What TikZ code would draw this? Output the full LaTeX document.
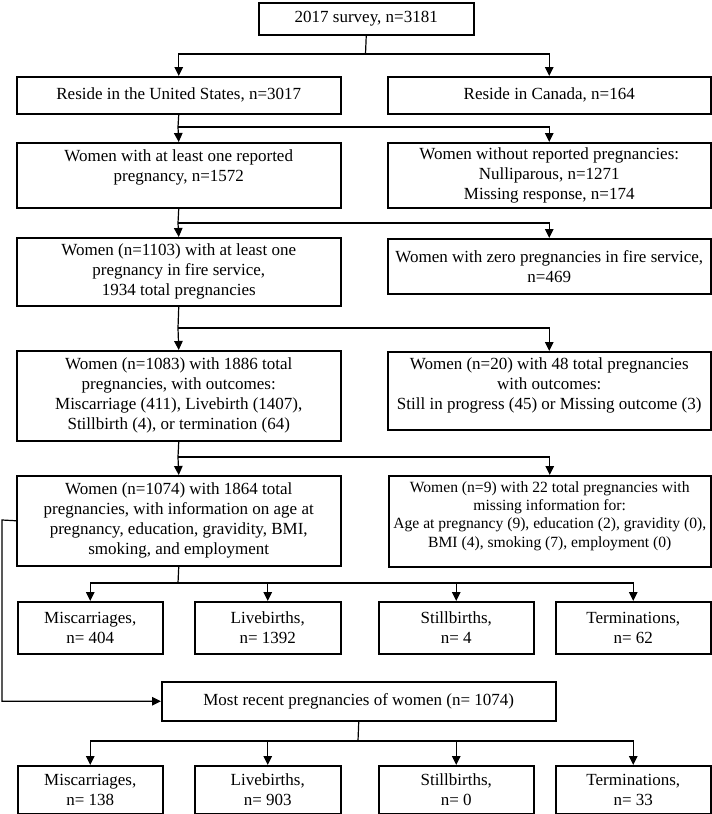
\documentclass[tikz,border=0pt]{standalone}
\usepackage{fontspec}
\setmainfont{Liberation Serif}
\usetikzlibrary{arrows.meta}
\tikzset{
  box/.style={draw, line width=1.5pt, align=center, inner sep=1pt, anchor=north west,
    font=\fontsize{17}{20}\selectfont},
  smallbox/.style={box, font=\fontsize{15.6}{18.3}\selectfont},
  conn/.style={line width=1.2pt},
  arr/.style={line width=1.2pt, -{Triangle[length=9pt,width=8.5pt]}},
}
\begin{document}
\begin{tikzpicture}[x=1pt,y=-1pt]
\useasboundingbox (0,0) rectangle (712,814);
% boxes
\node[box, minimum width=215pt, minimum height=32pt] (b1) at (258,2) {2017 survey, n=3181};
\node[box, minimum width=324pt, minimum height=37pt] (us) at (16,76) {Reside in the United States, n=3017};
\node[box, minimum width=323pt, minimum height=37pt] (ca) at (387,76) {Reside in Canada, n=164};
\node[box, minimum width=324pt, minimum height=65pt, text depth=20pt] (w1) at (16,142) {Women with at least one reported\\pregnancy, n=1572};
\node[box, minimum width=323pt, minimum height=65pt] (w1r) at (387,142) {Women without reported pregnancies:\\Nulliparous, n=1271\\Missing response, n=174};
\node[box, minimum width=324pt, minimum height=68pt] (w2) at (16,237) {Women (n=1103) with at least one\\pregnancy in fire service,\\1934 total pregnancies};
\node[box, minimum width=323pt, minimum height=55pt] (w2r) at (387,238) {Women with zero pregnancies in fire service,\\n=469};
\node[box, minimum width=324pt, minimum height=90pt] (w3) at (16,350) {Women (n=1083) with 1886 total\\pregnancies, with outcomes:\\Miscarriage (411), Livebirth (1407),\\Stillbirth (4), or termination (64)};
\node[box, minimum width=323pt, minimum height=78pt, text depth=14pt] (w3r) at (387,351) {Women (n=20) with 48 total pregnancies\\with outcomes:\\Still in progress (45) or Missing outcome (3)};
\node[box, minimum width=324pt, minimum height=90pt] (w4) at (16,475) {Women (n=1074) with 1864 total\\pregnancies, with information on age at\\pregnancy, education, gravidity, BMI,\\smoking, and employment};
\node[smallbox, minimum width=322pt, minimum height=91pt, text depth=14pt] (w4r) at (388,475) {Women (n=9) with 22 total pregnancies with\\missing information for:\\Age at pregnancy (9), education (2), gravidity (0),\\BMI (4), smoking (7), employment (0)};
% row 1
\node[box, minimum width=145pt, minimum height=52pt] (r1a) at (17,601) {Miscarriages,\\n= 404};
\node[box, minimum width=146pt, minimum height=52pt] (r1b) at (194,601) {Livebirths,\\n= 1392};
\node[box, minimum width=155pt, minimum height=52pt] (r1c) at (378,601) {Stillbirths,\\n= 4};
\node[box, minimum width=155pt, minimum height=52pt] (r1d) at (555,601) {Terminations,\\n= 62};
% most recent
\node[box, minimum width=394pt, minimum height=39pt] (mr) at (161,681) {Most recent pregnancies of women (n= 1074)};
% row 2
\node[box, minimum width=145pt, minimum height=48pt] (r2a) at (17,765) {Miscarriages,\\n= 138};
\node[box, minimum width=146pt, minimum height=48pt] (r2b) at (194,765) {Livebirths,\\n= 903};
\node[box, minimum width=155pt, minimum height=48pt] (r2c) at (378,765) {Stillbirths,\\n= 0};
\node[box, minimum width=155pt, minimum height=48pt] (r2d) at (555,765) {Terminations,\\n= 33};
% junctions
\coordinate (j1) at (365.5,54);
\coordinate (j2) at (178,127);
\coordinate (j3) at (178,223);
\coordinate (j4) at (178,328);
\coordinate (j5) at (178,457);
\coordinate (j6) at (178,583);
\coordinate (lp) at (2,520);
\coordinate (j7) at (358,741);
% connectors
\draw[conn] (b1.south) -- (j1);
\draw[arr] (j1) -| (us.north);
\draw[arr] (j1) -| (ca.north);
\draw[conn] (us.south) -- (j2);
\draw[arr] (j2) -- (w1.north);
\draw[arr] (j2) -| (w1r.north);
\draw[conn] (w1.south) -- (j3);
\draw[arr] (j3) -- (w2.north);
\draw[arr] (j3) -| (w2r.north);
\draw[conn] (w2.south) -- (j4);
\draw[arr] (j4) -- (w3.north);
\draw[arr] (j4) -| (w3r.north);
\draw[conn] (w3.south) -- (j5);
\draw[arr] (j5) -- (w4.north);
\draw[arr] (j5) -| (w4r.north);
\draw[conn] (w4.south) -- (j6);
\draw[arr] (j6) -| (r1a.north);
\draw[arr] (j6) -| (r1b.north);
\draw[arr] (j6) -| (r1c.north);
\draw[arr] (j6) -| (r1d.north);
\draw[arr] (w4.west) -- (lp) |- (mr.west);
\draw[conn] (mr.south) -- (j7);
\draw[arr] (j7) -| (r2a.north);
\draw[arr] (j7) -| (r2b.north);
\draw[arr] (j7) -| (r2c.north);
\draw[arr] (j7) -| (r2d.north);
\end{tikzpicture}
\end{document}
